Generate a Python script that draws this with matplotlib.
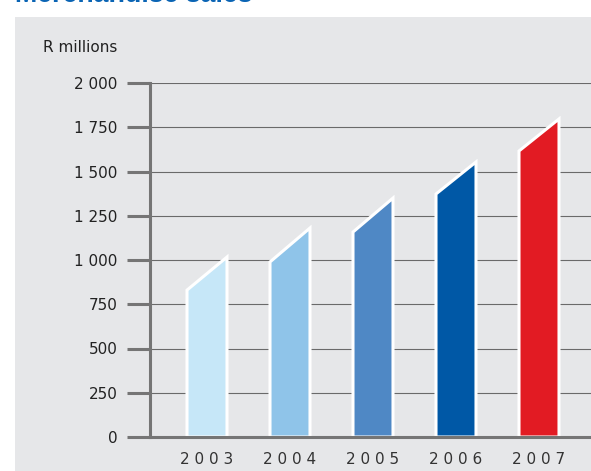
import numpy as np
import matplotlib.pyplot as plt
from matplotlib.patches import Polygon, Rectangle

plt.rcParams['font.family'] = ['DejaVu Sans']

# data
years = ['2003', '2004', '2005', '2006', '2007']
sales_start = [830, 989, 1158, 1373, 1616]   # left edge of the slanted top
sales_end = [1017, 1181, 1350, 1554, 1797]   # right edge (year-end value)
barColors = ['#c6e7f8', '#8fc4e9', '#4f88c5', '#0058a6', '#e21b23']
yTicks = [0, 250, 500, 750, 1000, 1250, 1500, 1750, 2000]
yTickLabels = ['0', '250', '500', '750', '1 000', '1 250', '1 500', '1 750', '2 000']

W, H = 591, 471
fig = plt.figure(figsize=(W / 100, H / 100), dpi=100)
fig.patch.set_facecolor('white')

# grey panel behind the chart
fig.patches.append(Rectangle((15 / W, 0), 1 - 15 / W, 1 - 17 / H,
                             transform=fig.transFigure, facecolor='#e6e7e9',
                             edgecolor='none', zorder=-5))

# title, cut off by the top edge
fig.text(15 / W, 1 - 2 / H, 'Merchandise sales', color='#0a64b4',
         fontsize=19.3, fontweight='bold', va='baseline', ha='left',
         family='Liberation Sans')

# axes: x from px 150 to 591, y: 0 at px 437, 2000 at px 83
ax = fig.add_axes([150 / W, (H - 437) / H, (W - 150) / W, (437 - 83) / H])
ax.set_facecolor('none')
ax.set_zorder(2)

step = 83.0
xmin = -(207 - 150) / step
xmax = xmin + (W - 150) / step
ax.set_xlim(xmin, xmax)
ax.set_ylim(0, 2000)

barW = 40 / step
for i in range(len(years)):
    pts = [(i - barW / 2, 0), (i - barW / 2, sales_start[i]),
           (i + barW / 2, sales_end[i]), (i + barW / 2, 0)]
    ax.add_patch(Polygon(pts, closed=True, facecolor=barColors[i],
                         edgecolor='white', linewidth=2.2, joinstyle='miter',
                         zorder=3, clip_on=False))

ax.yaxis.grid(True, color='#6a6a6a', linewidth=0.8, zorder=1)
ax.set_axisbelow(True)

for s in ['top', 'right']:
    ax.spines[s].set_visible(False)
for s in ['left', 'bottom']:
    ax.spines[s].set_color('#757575')
    ax.spines[s].set_linewidth(2.2)
    ax.spines[s].set_zorder(4)

ax.set_yticks(yTicks)
ax.set_yticklabels(yTickLabels)
ax.tick_params(axis='y', direction='out', length=16.5, width=2.2,
               color='#757575', pad=7, labelsize=11, labelcolor='#222222')

ax.set_xticks(range(len(years)))
ax.set_xticklabels([' '.join(y) for y in years])
ax.tick_params(axis='x', length=0, pad=11, labelsize=11, labelcolor='#333333')

fig.text(117 / W, 1 - 48 / H, 'R millions', fontsize=11, color='#222222',
         ha='right', va='center')

fig.savefig('out.png', dpi=100)
